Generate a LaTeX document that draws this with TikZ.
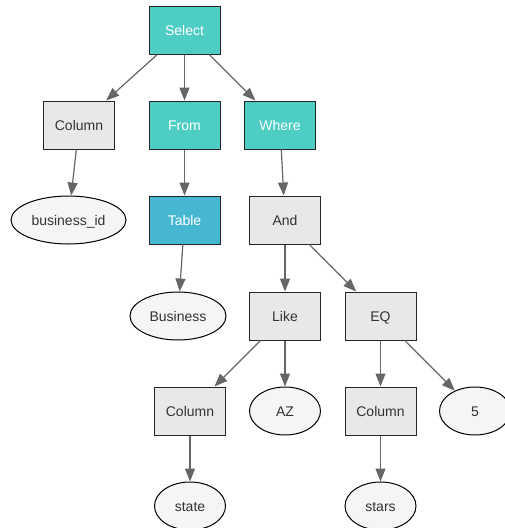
\documentclass[tikz,border=0pt]{standalone}
\usepackage{fontspec}
\setmainfont{Liberation Sans}
\usepackage{tikz}
\usetikzlibrary{arrows.meta, shapes.geometric}
\definecolor{selteal}{HTML}{4ECDC4}
\definecolor{tblblue}{HTML}{45B7D1}
\definecolor{boxgray}{HTML}{E8E8E8}
\definecolor{leafgray}{HTML}{F5F5F5}
\definecolor{edgegray}{HTML}{666666}
\definecolor{txtgray}{HTML}{333333}
\tikzset{
        x=1pt, y=-1pt, % pixel coordinates, y downwards
        every node/.style={font=\fontsize{14}{16}\selectfont, text height=11pt, text depth=1pt},
        edge/.style={draw=edgegray, line width=1.2pt, -{Triangle[length=13pt,width=10pt]}},
    }
\tikzstyle{clause}=[draw=black!85,fill=selteal,text=white,line width=1pt,minimum width=71pt,minimum height=48pt,inner sep=0pt]
\tikzstyle{tablebox}=[clause,fill=tblblue]
\tikzstyle{opbox}=[draw=black!85,fill=boxgray,text=txtgray,line width=1pt,minimum width=71pt,minimum height=48pt,inner sep=0pt]
\tikzstyle{leaf}=[draw=black,fill=leafgray,text=txtgray,ellipse,line width=1pt,minimum width=71pt,minimum height=48pt,inner sep=0pt]

\begin{document}
\begin{tikzpicture}
    \useasboundingbox (0,0) rectangle (504,528);
    % clauses
    \node[clause] (select) at (184.5,30) {Select};
    \node[opbox] (col1) at (79,125) {Column};
    \node[clause] (from) at (184.5,125) {From};
    \node[clause] (where) at (280,125) {Where};
    % second row
    \node[leaf, minimum width=115pt] (bid) at (68.5,220) {business\_id};
    \node[tablebox] (table) at (184.5,220) {Table};
    \node[opbox] (and) at (285,220) {And};
    % third row
    \node[leaf, minimum width=96pt] (business) at (178,316) {Business};
    \node[opbox] (like) at (285,316) {Like};
    \node[opbox] (eq) at (380.5,316) {EQ};
    % fourth row
    \node[opbox] (col2) at (190,411) {Column};
    \node[leaf] (az) at (285,411) {AZ};
    \node[opbox] (col3) at (380.5,411) {Column};
    \node[leaf] (five) at (475,411) {5};
    % leaves
    \node[leaf] (state) at (190,506) {state};
    \node[leaf] (stars) at (380.5,506) {stars};

    \draw[edge] (select) -- (col1);
    \draw[edge] (select) -- (from);
    \draw[edge] (select) -- (where);
    \draw[edge] (col1) -- (bid);
    \draw[edge] (from) -- (table);
    \draw[edge] (where) -- (and);
    \draw[edge] (table) -- (business);
    \draw[edge] (and) -- (like);
    \draw[edge] (and) -- (eq);
    \draw[edge] (like) -- (col2);
    \draw[edge] (like) -- (az);
    \draw[edge] (eq) -- (col3);
    \draw[edge] (eq) -- (five);
    \draw[edge] (col2) -- (state);
    \draw[edge] (col3) -- (stars);
\end{tikzpicture}
\end{document}
